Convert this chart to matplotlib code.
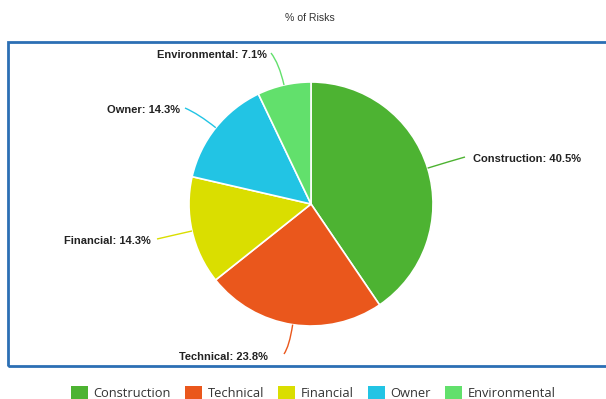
import matplotlib.pyplot as plt
from matplotlib.patches import Rectangle, PathPatch, Patch
from matplotlib.path import Path
import numpy as np

# data
categories = ["Construction", "Technical", "Financial", "Owner", "Environmental"]
values = [40.5, 23.8, 14.3, 14.3, 7.1]
colors = ["#4db332", "#ea571c", "#dade00", "#22c4e4", "#62e06c"]

W, H = 606, 399
fig = plt.figure(figsize=(W / 100, H / 100), dpi=100)
ax = fig.add_axes([0, 0, 1, 1])

cx, cy, r = 311, H - 204, 122

wedges, _ = ax.pie(values, colors=colors, startangle=90, counterclock=False,
                   center=(cx, cy), radius=r,
                   wedgeprops=dict(edgecolor="white", linewidth=1.2))

ax.set_xlim(0, W)
ax.set_ylim(0, H)
ax.set_aspect("equal")
ax.axis("off")

# blue frame around plot area
ax.add_patch(Rectangle((8, H - 366), 610, 324, fill=False,
                       edgecolor="#2c6fb4", linewidth=2, clip_on=False))

fig.text(0.512, 1 - 18 / H, "% of Risks", ha="center", va="center",
         fontsize=7.6, family="Liberation Sans", color="#333333")

# connector end (x, y from top), text anchor x, alignment
label_pos = {
    "Construction": (465, 157, 473, "left"),
    "Technical": (284, 354, 268, "right"),
    "Financial": (157, 239, 151, "right"),
    "Owner": (185, 108, 180, "right"),
    "Environmental": (271, 53, 267, "right"),
}

for w, name, val, col in zip(wedges, categories, values, colors):
    mid = np.deg2rad((w.theta1 + w.theta2) / 2)
    p0 = (cx + r * np.cos(mid), cy + r * np.sin(mid))
    c1 = (cx + (r + 22) * np.cos(mid), cy + (r + 22) * np.sin(mid))
    ex, ey, tx, ha = label_pos[name]
    path = Path([p0, c1, (ex, H - ey)], [Path.MOVETO, Path.CURVE3, Path.CURVE3])
    ax.add_patch(PathPatch(path, fill=False, edgecolor=col, linewidth=1))
    ty = H - ey - 2 if name != "Technical" else H - 357
    ax.text(tx, ty, f"{name}: {val}%", ha=ha, va="center",
            fontsize=8.0, fontweight="bold", family="Liberation Sans",
            color="#222222")

handles = [Patch(facecolor=c, edgecolor="none") for c in colors]
fig.legend(handles, categories, loc="center", ncol=5,
           bbox_to_anchor=(0.517, 1 - 393 / H), frameon=False,
           prop=dict(family="Open Sans", size=9.3), labelcolor="#333333",
           handlelength=1.3, handleheight=1.1, handletextpad=0.45,
           columnspacing=1.1)

fig.savefig("out.png", dpi=100)
